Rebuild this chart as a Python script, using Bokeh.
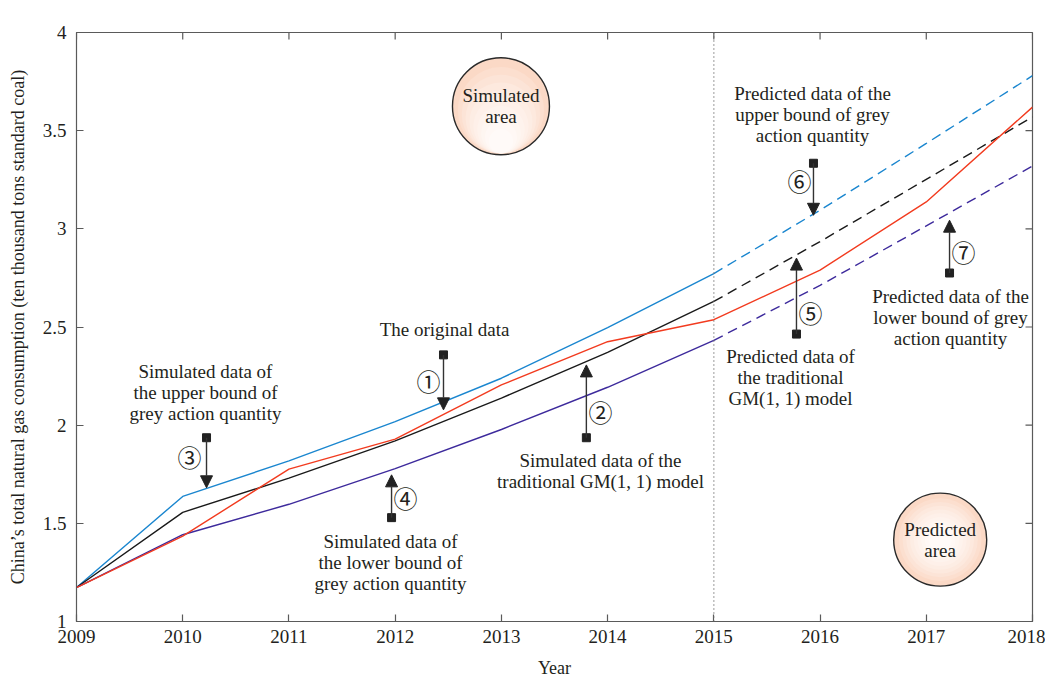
from bokeh.plotting import figure
from bokeh.models import Arrow, NormalHead, Span, Label, FixedTicker, Range1d
from bokeh.embed import file_html
from bokeh.resources import INLINE
from bokeh.core.properties import value

# ---------------- data (unit: 10^4 tons standard coal) ----------------
years = [2009, 2010, 2011, 2012, 2013, 2014, 2015, 2016, 2017, 2018]
original = [1.173, 1.435, 1.776, 1.929, 2.205, 2.425, 2.537, 2.790, 3.137, 3.620]
upper    = [1.173, 1.637, 1.818, 2.018, 2.239, 2.497, 2.772, 3.095, 3.435, 3.780]
gm11     = [1.173, 1.556, 1.730, 1.920, 2.138, 2.371, 2.630, 2.935, 3.252, 3.570]
lower    = [1.173, 1.442, 1.597, 1.779, 1.978, 2.193, 2.432, 2.712, 3.015, 3.320]

x_ticks = [2009, 2010, 2011, 2012, 2013, 2014, 2015, 2016, 2017, 2018]
y_ticks = [1, 1.5, 2, 2.5, 3, 3.5, 4]
split_year = 2015

SERIF = "Liberation Serif"
TXT = "#231f20"
AX = "#5a5a5a"

W, H = 1045, 680
ML, MR, MT, MB = 76, 13, 32, 58
X0, X1, Y0, Y1 = 2009, 2018, 1, 4

p = figure(width=W, height=H, output_backend="svg", toolbar_location=None,
           x_range=Range1d(X0, X1), y_range=Range1d(Y0, Y1),
           min_border_left=ML, min_border_right=MR, min_border_top=MT, min_border_bottom=MB)
p.background_fill_color = "white"
p.border_fill_color = "white"
p.grid.visible = False
p.outline_line_color = AX
p.outline_line_width = 1.2

for ax in (p.xaxis[0], p.yaxis[0]):
    ax.major_tick_in = 7
    ax.major_tick_out = 0
    ax.minor_tick_in = 0
    ax.minor_tick_out = 0
    ax.axis_line_color = AX
    ax.major_tick_line_color = AX
    ax.major_tick_line_width = 1.2
    ax.major_label_text_font = SERIF
    ax.major_label_text_font_size = "19px"
    ax.major_label_text_color = TXT
    ax.axis_label_text_font = SERIF
    ax.axis_label_text_font_style = "normal"
    ax.axis_label_text_font_size = "18px"
    ax.axis_label_text_color = TXT

p.xaxis[0].ticker = FixedTicker(ticks=x_ticks)
p.yaxis[0].ticker = FixedTicker(ticks=y_ticks)
p.yaxis[0].major_label_overrides = {1: "1", 2: "2", 3: "3", 4: "4"}
p.xaxis[0].axis_label = "Year"
p.yaxis[0].axis_label = "China\u2019s total natural gas consumption (ten thousand tons standard coal)"
p.xaxis[0].major_label_standoff = 8
p.yaxis[0].major_label_standoff = 10
p.xaxis[0].axis_label_standoff = 12
p.yaxis[0].axis_label_standoff = 12

# inward ticks on the top and right edges of the box
fw, fh = W - ML - MR, H - MT - MB
tick_px = 7
dy = tick_px * (Y1 - Y0) / fh
dx = tick_px * (X1 - X0) / fw
p.segment(x0=x_ticks, y0=[Y1] * len(x_ticks), x1=x_ticks, y1=[Y1 - dy] * len(x_ticks),
          line_color=AX, line_width=1.2)
p.segment(x0=[X1] * len(y_ticks), y0=y_ticks, x1=[X1 - dx] * len(y_ticks), y1=y_ticks,
          line_color=AX, line_width=1.2)

# dividing line
p.add_layout(Span(location=split_year, dimension="height", line_color="#666666",
                  line_dash="1 3", line_width=1.3))

# ---------------- series ----------------
k = years.index(split_year)
BLUE, RED, BLACK, PURPLE = "#1a86cf", "#f23b1f", "#1a1a1a", "#3d2a9c"
for ser, col in ((upper, BLUE), (gm11, BLACK), (lower, PURPLE)):
    p.line(years[:k + 1], ser[:k + 1], line_color=col, line_width=1.4)
    p.line(years[k:], ser[k:], line_color=col, line_width=1.4, line_dash="10 6")
p.line(years, original, line_color=RED, line_width=1.4)

# ---------------- area badges (shaded discs) ----------------
px_y = (Y1 - Y0) / fh
shades = ["#fbd9c6", "#fcdfcf", "#fce4d7", "#fde9de", "#fdede4", "#fef0e9",
          "#fef3ed", "#fef6f1", "#fff8f5", "#fffaf8"]
badges = [(2012.996, 3.624, 97, "Simulated\narea", 1.0),
          (2017.131, 1.417, 93, "Predicted\narea", 0.0)]
for bx, by, d, label, shift in badges:
    p.scatter([bx], [by], marker="circle", size=d, fill_color=shades[0], fill_alpha=1.0,
              line_color="#2a2a2a", line_width=1.4)
    for i, c in enumerate(shades[1:], start=1):
        s = d - 3 - i * (d * 0.08)
        off = shift * (d - 3 - s) / 2 * px_y
        p.scatter([bx], [by - off], marker="circle", size=max(s, 4),
                  fill_color=c, fill_alpha=1.0, line_color=None)
    p.text([bx], [by], text=[label], text_align="center", text_baseline="middle",
           text_font=value(SERIF), text_font_size="19px", text_color=TXT,
           text_line_height=1.0)

# ---------------- annotations ----------------
# (x, y_tail, y_head, number, x_num, y_num, text, x_text, y_text)
notes = [
    (2012.455, 2.358, 2.078, "\u2460", 2012.314, 2.230, "The original data", 2012.465, 2.485),
    (2013.800, 1.936, 2.307, "\u2461", 2013.933, 2.068,
     "Simulated data of the\ntraditional GM(1, 1) model", 2013.933, 1.766),
    (2010.224, 1.936, 1.681, "\u2462", 2010.064, 1.839,
     "Simulated data of\nthe upper bound of\ngrey action quantity", 2010.214, 2.164),
    (2011.966, 1.529, 1.747, "\u2463", 2012.097, 1.630,
     "Simulated data of\nthe lower bound of\ngrey action quantity", 2011.956, 1.300),
    (2015.778, 2.464, 2.851, "\u2464", 2015.910, 2.576,
     "Predicted data of\nthe traditional\nGM(1, 1) model", 2015.722, 2.241),
    (2015.938, 3.334, 3.069, "\u2465", 2015.807, 3.247,
     "Predicted data of the\nupper bound of grey\naction quantity", 2015.929, 3.583),
    (2017.219, 2.775, 3.044, "\u2466", 2017.351, 2.886,
     "Predicted data of the\nlower bound of grey\naction quantity", 2017.228, 2.546),
]
for (ax_, yt, yh, num, xn, yn, txt, xt, ytx) in notes:
    p.add_layout(Arrow(end=NormalHead(size=12, fill_color="#222222", line_color="#222222"),
                       x_start=ax_, y_start=yt, x_end=ax_, y_end=yh,
                       line_color="#333333", line_width=1.4))
    p.scatter([ax_], [yt], marker="square", size=8, fill_color="#222222", line_color="#222222")
    p.text([xn], [yn], text=[num], text_align="center", text_baseline="middle",
           text_font=value("Noto Sans CJK SC"), text_font_size="24px", text_color=TXT)
    p.text([xt], [ytx], text=[txt], text_align="center", text_baseline="middle",
           text_font=value(SERIF), text_font_size="19px", text_color=TXT,
           text_line_height=1.0)

# x10^4 multiplier
p.add_layout(Label(x=X0, y=Y1, x_offset=1, y_offset=5, text="\u00d710\u2074",
                   text_font=SERIF, text_font_size="19px", text_color=TXT,
                   text_baseline="bottom", text_align="left"))

open("out.html", "w").write(file_html(p, INLINE))
